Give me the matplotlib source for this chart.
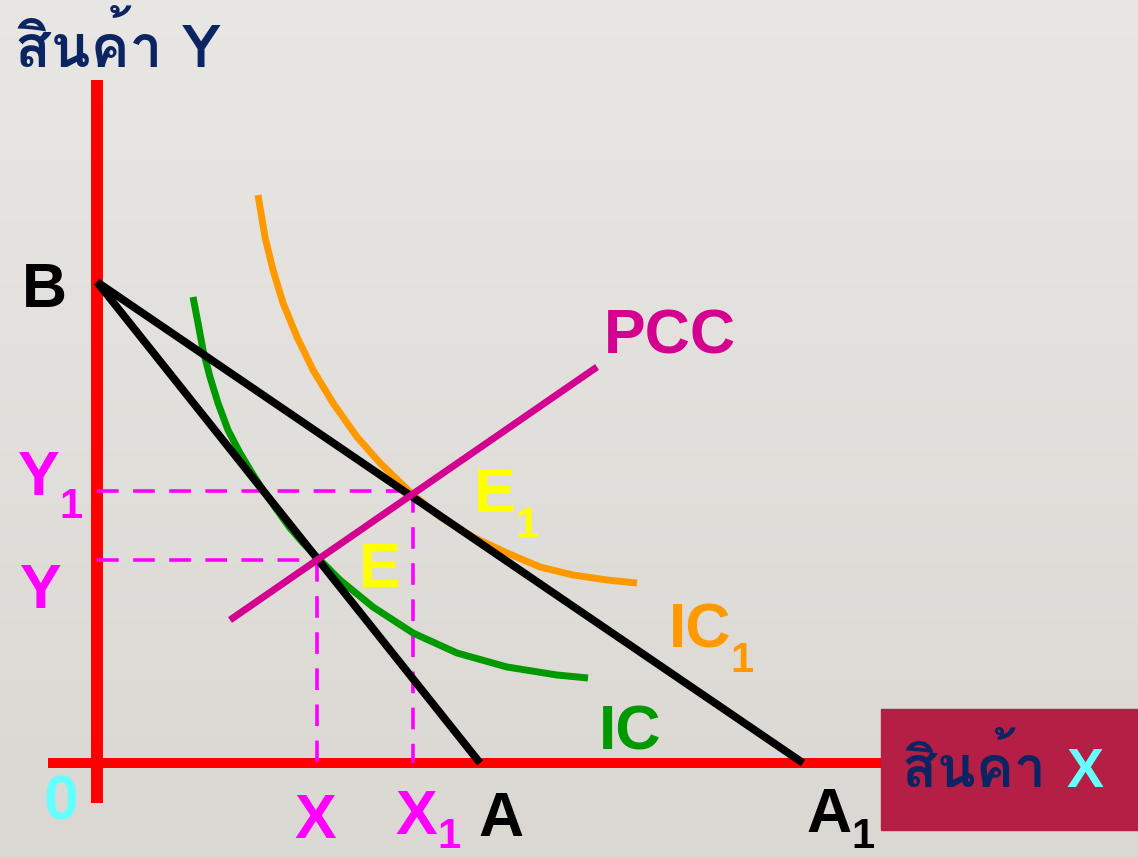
import numpy as np
import matplotlib
matplotlib.use("Agg")
import matplotlib.pyplot as plt
from matplotlib import font_manager
from matplotlib.ft2font import FT2Font
from matplotlib.patches import Rectangle

# ข้อมูล (หน่วย: จุดภาพนับจากจุดกำเนิด 0)
budget_B = (0, 481)
budget_A = (383, 0)
budget_A1 = (706, 0)
point_E = (220, 203)
point_E1 = (316, 272)
pcc_x = [133, 500]
pcc_y = [143, 396]
ic_x = [96, 101, 106, 113, 121, 131, 143, 155, 166, 180, 193, 206, 220, 243, 276, 316, 360, 410, 460, 491]
ic_y = [466, 440, 413, 386, 360, 333, 310, 290, 273, 253, 235, 220, 206, 183, 156, 130, 110, 96, 88, 85]
ic1_x = [161, 168, 176, 186, 200, 216, 236, 260, 283, 313, 343, 376, 410, 443, 476, 510, 540]
ic1_y = [568, 526, 493, 460, 426, 393, 360, 326, 300, 271, 246, 226, 210, 196, 188, 183, 180]


def thai_font():
    # หาฟอนต์ที่มีอักษรไทย
    found = []
    for f in font_manager.fontManager.ttflist:
        try:
            if 0x0E2A in FT2Font(f.fname).get_charmap():
                found.append(f)
        except Exception:
            pass
    for f in found:
        if f.weight in ("bold", 700):
            return f.name
    return found[0].name if found else "DejaVu Sans"


thai = thai_font()
latin = "Liberation Sans"

fig = plt.figure(figsize=(11.38, 8.58), dpi=100)
ax = fig.add_axes([0, 0, 1, 1])
ax.set_xlim(-97, 1041)
ax.set_ylim(-95, 763)
ax.axis("off")

# พื้นหลังไล่สี
grad = np.linspace(0, 1, 256).reshape(-1, 1)
top = np.array([0.912, 0.904, 0.893])
bottom = np.array([0.858, 0.847, 0.828])
bg = top + (bottom - top) * grad[:, :, None]
ax.imshow(bg, extent=(-97, 1041, -95, 763), aspect="auto", zorder=0)

# แกน
ax.plot([0, 0], [-40, 683], color="#ff0000", lw=8.6, solid_capstyle="butt", zorder=2)
ax.plot([-49, 790], [0, 0], color="#ff0000", lw=7.2, solid_capstyle="butt", zorder=2)

# เส้นประ
dash = dict(color="#ff00ff", lw=2.6, dashes=(6, 4), zorder=3)
ax.plot([0, point_E1[0] - 3], [point_E1[1], point_E1[1]], **dash)
ax.plot([point_E1[0], point_E1[0]], [point_E1[1], 0], **dash)
ax.plot([0, point_E[0]], [point_E[1], point_E[1]], **dash)
ax.plot([point_E[0], point_E[0]], [point_E[1], 0], **dash)

# เส้นงบประมาณ
ax.plot([budget_B[0], budget_A[0]], [budget_B[1], budget_A[1]], color="black", lw=5.6,
        solid_capstyle="butt", zorder=5)
ax.plot([budget_B[0], budget_A1[0]], [budget_B[1], budget_A1[1]], color="black", lw=5.6,
        solid_capstyle="butt", zorder=5)

# เส้นความพอใจเท่ากัน
ax.plot(ic_x, ic_y, color="#009900", lw=5, solid_capstyle="butt", solid_joinstyle="round", zorder=4)
ax.plot(ic1_x, ic1_y, color="#ff9900", lw=5, solid_capstyle="butt", solid_joinstyle="round", zorder=4)

# PCC
ax.plot(pcc_x, pcc_y, color="#d4008f", lw=5, solid_capstyle="butt", zorder=6)

# กล่องชื่อแกน X
ax.add_patch(Rectangle((784, -67), 300, 121, color="#b51e45", zorder=7))

big = dict(fontsize=45, fontweight="bold", family=latin, ha="center", va="baseline", zorder=8)
sub = dict(fontsize=30, fontweight="bold", family=latin, ha="center", va="baseline", zorder=8)

ax.text(-53, 456, "B", color="black", **big)
ax.text(-36, -57, "0", color="#66ffff", **big)
ax.text(-58, 268, "Y", color="#ff00ff", **big)
ax.text(-26, 245, "1", color="#ff00ff", **sub)
ax.text(-56, 155, "Y", color="#ff00ff", **big)
ax.text(218, -75, "X", color="#ff00ff", **big)
ax.text(319, -71, "X", color="#ff00ff", **big)
ax.text(352, -85, "1", color="#ff00ff", **sub)
ax.text(404, -73, "A", color="black", **big)
ax.text(732, -69, "A", color="black", **big)
ax.text(766, -85, "1", color="black", **sub)
ax.text(573, 410, "PCC", color="#d4008f", **big)
ax.text(398, 251, "E", color="#ffff00", **big)
ax.text(430, 226, "1", color="#ffff00", **sub)
ax.text(283, 176, "E", color="#ffff00", **big)
ax.text(603, 115, "IC", color="#ff9900", **big)
ax.text(645, 91, "1", color="#ff9900", **sub)
ax.text(533, 13, "IC", color="#009900", **big)

ax.text(-82, 696, "สินค้า Y", color="#0c2462", fontsize=42, fontweight="bold",
        family=[thai, latin], ha="left", va="baseline", zorder=8)
ax.text(805, -24, "สินค้า", color="#0c2462", fontsize=41, fontweight="bold",
        family=[thai, latin], ha="left", va="baseline", zorder=8)
ax.text(988, -24, "X", color="#66ffff", fontsize=40, fontweight="bold",
        family=latin, ha="center", va="baseline", zorder=8)

fig.savefig("out.png", dpi=100)
